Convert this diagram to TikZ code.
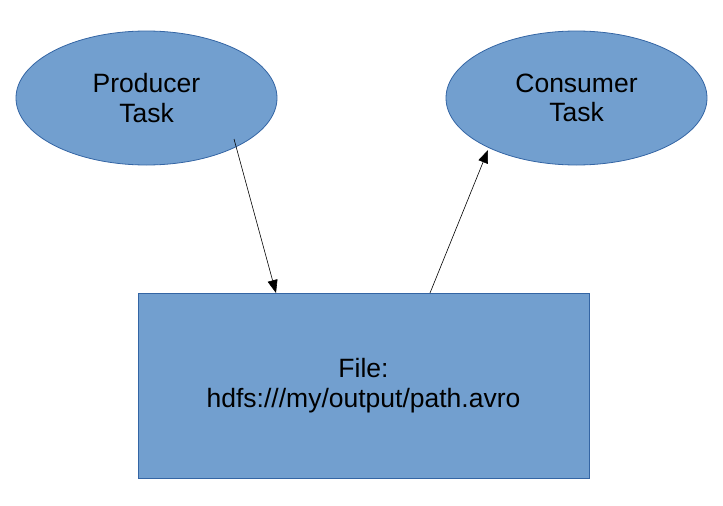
\documentclass[tikz,border=0pt]{standalone}
\usepackage{fontspec}
\setmainfont{Liberation Sans}
\usetikzlibrary{arrows.meta,shapes.geometric}
\definecolor{shapefill}{HTML}{729FCF}
\definecolor{shapeline}{HTML}{3465A4}
\begin{document}
\begin{tikzpicture}[x=1pt,y=-1pt,
  shp/.style={fill=shapefill,draw=shapeline,line width=0.8pt,inner sep=0pt,align=center,
    font=\fontsize{26.5}{29.5}\selectfont},
  conn/.style={line width=0.6pt,-{Triangle[length=13pt,width=10pt]}}]
\useasboundingbox (0,0) rectangle (723,506);
\node[shp,ellipse,minimum width=261pt,minimum height=134pt] (prod) at (146.5,98) {Producer\\Task};
\node[shp,ellipse,minimum width=261pt,minimum height=134pt] (cons) at (576.5,98) {Consumer\\Task};
\node[shp,rectangle,minimum width=451pt,minimum height=185pt] (file) at (363.5,385.5) {File:\\hdfs:///my/output/path.avro};
\coordinate (a1) at (234,139);
\coordinate (a2) at (276,293);
\coordinate (b1) at (430,293);
\coordinate (b2) at (488,150);
\draw[conn] (a1) -- (a2);
\draw[conn] (b1) -- (b2);
\end{tikzpicture}
\end{document}
